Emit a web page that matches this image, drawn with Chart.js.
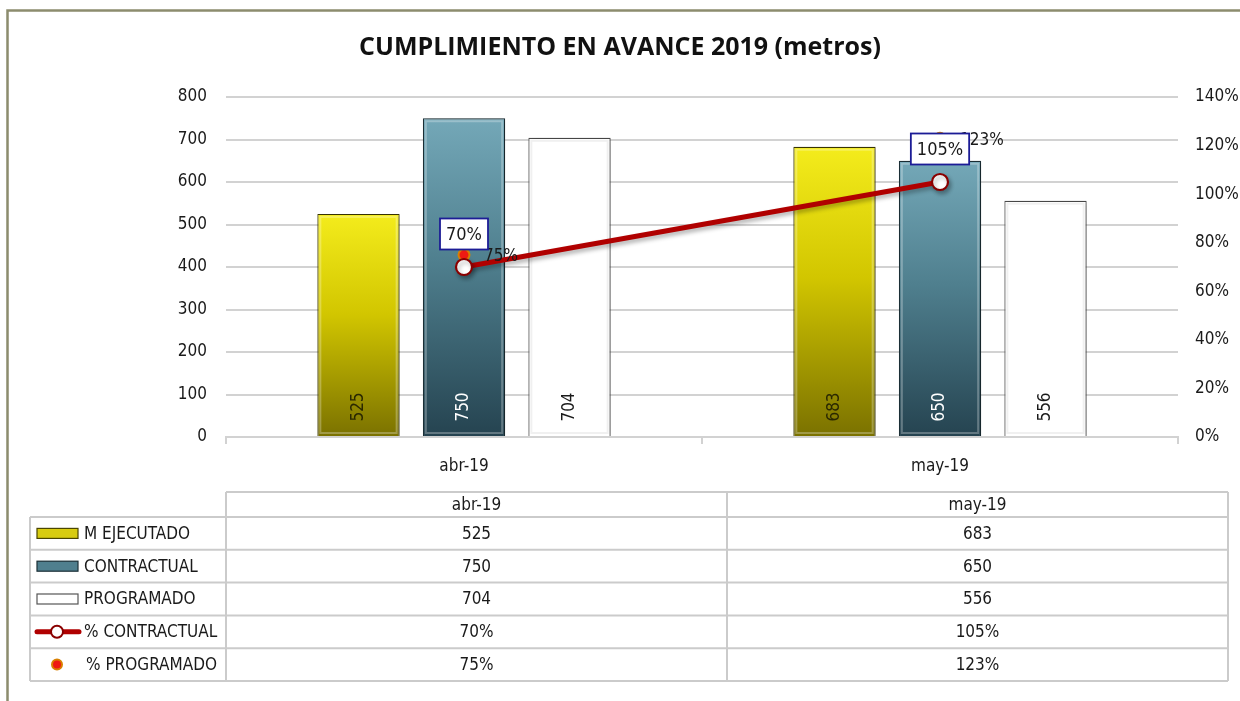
<!DOCTYPE html>
<html>
<head>
<meta charset="utf-8">
<title>Cumplimiento en avance 2019</title>
<script src="https://cdn.jsdelivr.net/npm/chart.js@4.4.1/dist/chart.umd.min.js"></script>
<style>
  html, body { margin: 0; padding: 0; background: #fff; }
  canvas { display: block; }
</style>
</head>
<body>
<canvas id="avance" width="1240" height="701"></canvas>
<script>
const categories = ['abr-19', 'may-19'];
const ejecutado = [525, 683];
const contractual = [750, 650];
const programado = [704, 556];
const pctContractual = [70, 105];
const pctProgramado = [75, 123];
const metrosTicks = [0, 100, 200, 300, 400, 500, 600, 700, 800];
const pctTicks = [0, 20, 40, 60, 80, 100, 120, 140];

const NARROW = '"Liberation Sans Narrow", "Arial Narrow", "DejaVu Sans Condensed", sans-serif';
const TEXT = '#1a1a1a';
const GRID = '#d2d2d2';

Chart.defaults.font.family = NARROW;
Chart.defaults.font.size = 17;
Chart.defaults.color = TEXT;

// vertical gradient from the top of each bar to the baseline
function barFill(stops) {
  return (c) => {
    const chart = c.chart;
    if (!chart.chartArea || c.raw == null) return stops[1];
    const ys = chart.scales.y;
    const g = chart.ctx.createLinearGradient(0, ys.getPixelForValue(c.raw), 0, ys.getPixelForValue(0));
    g.addColorStop(0, stops[0]);
    g.addColorStop(0.45, stops[1]);
    g.addColorStop(1, stops[2]);
    return g;
  };
}

const yellow = ['#f4ec1c', '#d2c600', '#7a7100'];
const teal = ['#74a8b8', '#4f7f8e', '#254350'];

const datasets = [
  {
    label: 'M EJECUTADO', type: 'bar', data: ejecutado, yAxisID: 'y', order: 3,
    backgroundColor: barFill(yellow), borderColor: '#3a3600', borderWidth: 1.2,
    swatch: '#d8cc10', swatchBorder: '#4a4500', labelColor: '#2a2800', kind: 'bar'
  },
  {
    label: 'CONTRACTUAL', type: 'bar', data: contractual, yAxisID: 'y', order: 3,
    backgroundColor: barFill(teal), borderColor: '#1b2f36', borderWidth: 1.2,
    swatch: '#4f7f8e', swatchBorder: '#1b2f36', labelColor: '#ffffff', kind: 'bar'
  },
  {
    label: 'PROGRAMADO', type: 'bar', data: programado, yAxisID: 'y', order: 3,
    backgroundColor: '#ffffff', borderColor: '#4a4a4a', borderWidth: 1.2,
    swatch: '#ffffff', swatchBorder: '#555555', labelColor: '#1a1a1a', kind: 'bar'
  },
  {
    label: '% CONTRACTUAL', type: 'line', data: pctContractual, yAxisID: 'y1', order: 1,
    borderColor: '#b00000', borderWidth: 5, tension: 0,
    pointRadius: 8, pointBackgroundColor: '#ffffff', pointBorderColor: '#8a0000', pointBorderWidth: 2.2,
    kind: 'line'
  },
  {
    label: '% PROGRAMADO', type: 'line', data: pctProgramado, yAxisID: 'y1', order: 2,
    showLine: false, pointRadius: 5.5, pointBackgroundColor: '#ee1a12', pointBorderColor: '#d98000', pointBorderWidth: 2,
    kind: 'dot'
  }
];

const fmtPct = v => v + '%';

// soft drop shadow under bars and the line, inner highlight on shaded bars
const shading = {
  id: 'shading',
  beforeDatasetDraw(chart, args) {
    const ds = chart.data.datasets[args.index];
    const ctx = chart.ctx;
    ctx.save();
    if (ds.kind === 'bar') {
      ctx.shadowColor = 'rgba(0,0,0,0.22)';
      ctx.shadowBlur = 5;
      ctx.shadowOffsetX = 3;
      ctx.shadowOffsetY = 1;
    } else if (ds.kind === 'line') {
      ctx.shadowColor = 'rgba(0,0,0,0.3)';
      ctx.shadowBlur = 4;
      ctx.shadowOffsetX = 2;
      ctx.shadowOffsetY = 3;
    }
  },
  afterDatasetDraw(chart, args) {
    const ctx = chart.ctx;
    ctx.restore();
    const ds = chart.data.datasets[args.index];
    if (ds.kind !== 'bar') return;
    ctx.save();
    ctx.strokeStyle = ds.label === 'PROGRAMADO' ? 'rgba(0,0,0,0.06)' : 'rgba(255,255,255,0.28)';
    ctx.lineWidth = 2;
    args.meta.data.forEach(bar => {
      const w = bar.width, h = bar.base - bar.y;
      ctx.strokeRect(bar.x - w / 2 + 3, bar.y + 3, w - 6, h - 6);
    });
    ctx.restore();
  }
};

// values inside the bars and next to the percentage points
const valueLabels = {
  id: 'valueLabels',
  afterDatasetsDraw(chart) {
    const ctx = chart.ctx;
    ctx.save();
    ctx.font = '17px ' + NARROW;
    chart.data.datasets.forEach((ds, i) => {
      const meta = chart.getDatasetMeta(i);
      meta.data.forEach((el, j) => {
        const v = ds.data[j];
        if (ds.kind === 'bar') {
          ctx.save();
          ctx.translate(el.x, el.base - 29);
          ctx.rotate(-Math.PI / 2);
          ctx.fillStyle = ds.labelColor;
          ctx.textAlign = 'center';
          ctx.textBaseline = 'middle';
          ctx.fillText(String(v), 0, 0);
          ctx.restore();
        } else if (ds.kind === 'dot') {
          ctx.fillStyle = TEXT;
          ctx.textAlign = 'left';
          ctx.textBaseline = 'middle';
          ctx.fillText(fmtPct(v), el.x + 20, el.y + 2);
        }
      });
    });
    // boxed labels above the contractual line
    const li = chart.data.datasets.findIndex(d => d.kind === 'line');
    chart.getDatasetMeta(li).data.forEach((el, j) => {
      const txt = fmtPct(chart.data.datasets[li].data[j]);
      ctx.font = '18px ' + NARROW;
      const w = ctx.measureText(txt).width + 12;
      const h = 31;
      const cx = el.x, cy = el.y - 33;
      ctx.fillStyle = '#ffffff';
      ctx.fillRect(cx - w / 2, cy - h / 2, w, h);
      ctx.strokeStyle = '#1c1c96';
      ctx.lineWidth = 1.8;
      ctx.strokeRect(cx - w / 2, cy - h / 2, w, h);
      ctx.fillStyle = TEXT;
      ctx.textAlign = 'center';
      ctx.textBaseline = 'middle';
      ctx.fillText(txt, cx, cy + 1);
    });
    ctx.restore();
  }
};

// data table under the x axis, with a legend key in the first column
const dataTable = {
  id: 'dataTable',
  afterDraw(chart) {
    const ctx = chart.ctx;
    const area = chart.chartArea;
    const left = 30, keyRight = area.left, right = chart.width - 12;
    const top = area.bottom + 55, headH = 25, rowH = 32.8;
    const colW = (right - keyRight) / categories.length;
    const rows = chart.data.datasets;
    const bottom = top + headH + rowH * rows.length;

    ctx.save();
    ctx.strokeStyle = '#cbcbcb';
    ctx.lineWidth = 2;
    ctx.beginPath();
    ctx.moveTo(keyRight, top); ctx.lineTo(right, top);
    for (let r = 0; r <= rows.length; r++) {
      const y = top + headH + r * rowH;
      ctx.moveTo(left, y); ctx.lineTo(right, y);
    }
    ctx.moveTo(left, top + headH); ctx.lineTo(left, bottom);
    for (let c = 0; c <= categories.length; c++) {
      const x = keyRight + c * colW;
      ctx.moveTo(x, top); ctx.lineTo(x, bottom);
    }
    ctx.stroke();

    ctx.font = '17px ' + NARROW;
    ctx.fillStyle = TEXT;
    ctx.textBaseline = 'middle';
    ctx.textAlign = 'center';
    categories.forEach((cat, c) => ctx.fillText(cat, keyRight + (c + 0.5) * colW, top + headH / 2 + 1));

    rows.forEach((ds, r) => {
      const cy = top + headH + (r + 0.5) * rowH;
      // key symbol
      if (ds.kind === 'bar') {
        ctx.fillStyle = ds.swatch;
        ctx.fillRect(37, cy - 5, 41, 10);
        ctx.strokeStyle = ds.swatchBorder;
        ctx.lineWidth = 1.2;
        ctx.strokeRect(37, cy - 5, 41, 10);
      } else if (ds.kind === 'line') {
        ctx.strokeStyle = ds.borderColor;
        ctx.lineWidth = 5;
        ctx.lineCap = 'round';
        ctx.beginPath(); ctx.moveTo(37, cy); ctx.lineTo(79, cy); ctx.stroke();
        ctx.beginPath(); ctx.arc(57, cy, 6, 0, Math.PI * 2);
        ctx.fillStyle = ds.pointBackgroundColor; ctx.fill();
        ctx.lineWidth = 2; ctx.strokeStyle = ds.pointBorderColor; ctx.stroke();
      } else {
        ctx.beginPath(); ctx.arc(57, cy, 5, 0, Math.PI * 2);
        ctx.fillStyle = ds.pointBackgroundColor; ctx.fill();
        ctx.lineWidth = 2; ctx.strokeStyle = ds.pointBorderColor; ctx.stroke();
      }
      ctx.fillStyle = TEXT;
      ctx.textAlign = 'left';
      ctx.fillText(ds.label, ds.kind === 'dot' ? 86 : 84, cy + 1);
      ctx.textAlign = 'center';
      ds.data.forEach((v, c) => {
        const txt = ds.kind === 'bar' ? String(v) : fmtPct(v);
        ctx.fillText(txt, keyRight + (c + 0.5) * colW, cy + 1);
      });
    });
    ctx.restore();
  }
};

// olive frame around the whole chart
const frame = {
  id: 'frame',
  beforeDraw(chart) {
    const ctx = chart.ctx;
    ctx.save();
    ctx.fillStyle = '#ffffff';
    ctx.fillRect(0, 0, chart.width, chart.height);
    ctx.strokeStyle = '#8c8c6e';
    ctx.lineWidth = 2.5;
    ctx.beginPath();
    ctx.moveTo(7.5, chart.height + 5);
    ctx.lineTo(7.5, 10.5);
    ctx.lineTo(chart.width + 5, 10.5);
    ctx.stroke();
    ctx.restore();
  }
};

new Chart(document.getElementById('avance'), {
  data: { labels: categories, datasets },
  options: {
    responsive: false,
    devicePixelRatio: 1,
    animation: false,
    layout: { padding: 0 },
    datasets: {
      bar: { categoryPercentage: 0.665, barPercentage: 0.78 }
    },
    scales: {
      x: {
        offset: true,
        grid: { display: true, drawOnChartArea: false, offset: true, tickLength: 7, color: GRID, lineWidth: 2 },
        border: { color: GRID, width: 2 },
        ticks: { padding: 12, color: TEXT, font: { size: 17 } },
        afterFit: s => { s.height = 264; }
      },
      y: {
        position: 'left',
        min: metrosTicks[0], max: metrosTicks[metrosTicks.length - 1],
        afterBuildTicks: s => { s.ticks = metrosTicks.map(v => ({ value: v })); },
        grid: { color: GRID, lineWidth: 2, drawTicks: false },
        border: { display: false },
        ticks: { padding: 19, color: TEXT, font: { size: 17 } },
        afterFit: s => { s.width = 226; }
      },
      y1: {
        position: 'right',
        min: pctTicks[0], max: pctTicks[pctTicks.length - 1],
        afterBuildTicks: s => { s.ticks = pctTicks.map(v => ({ value: v })); },
        grid: { display: false, drawTicks: false },
        border: { display: false },
        ticks: { padding: 17, color: TEXT, font: { size: 17 }, callback: fmtPct },
        afterFit: s => { s.width = 62; }
      }
    },
    plugins: {
      legend: { display: false },
      tooltip: { enabled: false },
      title: {
        display: true,
        text: 'CUMPLIMIENTO EN AVANCE 2019 (metros)',
        color: '#111111',
        font: { family: '"Open Sans", Lato, sans-serif', size: 25, weight: 'bold', lineHeight: 1.2 },
        padding: { top: 33, bottom: 34 }
      }
    }
  },
  plugins: [frame, shading, valueLabels, dataTable]
});
</script>
</body>
</html>
